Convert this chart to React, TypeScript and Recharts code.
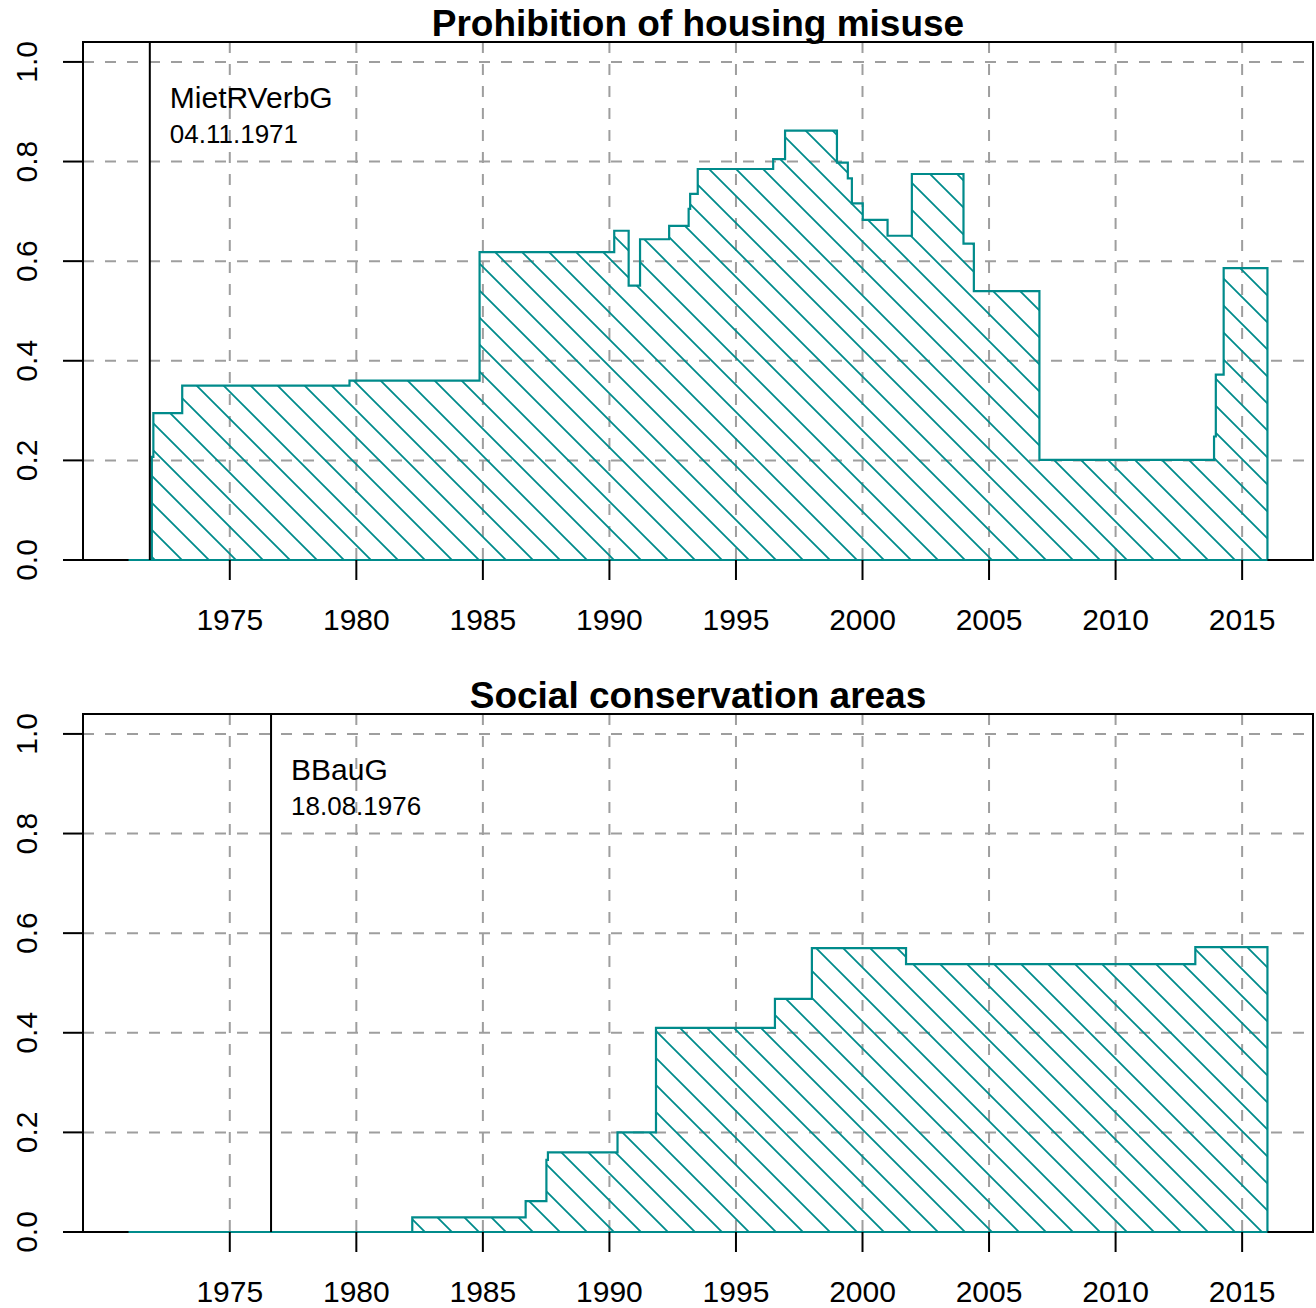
import React from "react";
import {
  ComposedChart,
  Area,
  XAxis,
  YAxis,
  CartesianGrid,
  ReferenceLine,
  ReferenceArea,
} from "recharts";

// tick positions
const yearTicks = [1975, 1980, 1985, 1990, 1995, 2000, 2005, 2010, 2015];
const shareTicks = [0, 0.2, 0.4, 0.6, 0.8, 1.0];

// Prohibition of housing misuse: step changes (year, share)
const misuseYears = [
  1971.0, 1971.92, 1971.98, 1973.12, 1979.73, 1984.87, 1990.19, 1990.76,
  1991.21, 1992.36, 1993.13, 1993.19, 1993.49, 1996.47, 1996.94, 1998.99,
  1999.42, 1999.58, 2000.01, 2000.99, 2001.95, 2003.99, 2004.4, 2006.99,
  2013.89, 2013.96, 2014.27, 2016.0,
];
const misuseShares = [
  0, 0.207, 0.295, 0.35, 0.36, 0.618, 0.661, 0.551, 0.644, 0.671, 0.705, 0.735,
  0.785, 0.805, 0.862, 0.798, 0.766, 0.716, 0.683, 0.651, 0.775, 0.635, 0.54,
  0.201, 0.248, 0.372, 0.586, 0,
];

// Social conservation areas
const conservationYears = [
  1971.0, 1982.21, 1986.69, 1987.51, 1987.57, 1990.32, 1991.84, 1996.54,
  1998.0, 2001.72, 2013.15, 2016.0,
];
const conservationShares = [
  0, 0.0295, 0.062, 0.145, 0.16, 0.2, 0.41, 0.468, 0.57, 0.538, 0.572, 0,
];

const FONT = '"Liberation Sans", Arial, Helvetica, sans-serif';
const TEAL = "#008B8B";
const GRID = "#9e9e9e";
const X_DOMAIN: [number, number] = [1969.2, 2017.8];
const Y_DOMAIN: [number, number] = [0, 1.04];

type PanelProps = {
  id: string;
  title: string;
  years: number[];
  shares: number[];
  lawName: string;
  lawDate: string;
  lawYear: number;
  top: number;
  height: number;
};

const renderXTick = (p: any) => (
  <text
    x={p.x}
    y={p.y + 39.5}
    textAnchor="middle"
    fontFamily={FONT}
    fontSize={30}
    fill="#000"
  >
    {p.payload.value}
  </text>
);

const renderYTick = (p: any) => {
  const bx = p.x - 16;
  return (
    <text
      x={bx}
      y={p.y}
      transform={`rotate(-90, ${bx}, ${p.y})`}
      textAnchor="middle"
      fontFamily={FONT}
      fontSize={30}
      fill="#000"
    >
      {Number(p.payload.value).toFixed(1)}
    </text>
  );
};

function Panel({ id, title, years, shares, lawName, lawDate, lawYear, top, height }: PanelProps) {
  const data = years.map((year, i) => ({ year, share: shares[i] }));
  const first = years[0];
  const last = years[years.length - 1];

  const lawLabel = (props: any) => {
    const vb = props.viewBox || {};
    return (
      <g>
        <text x={vb.x + 20} y={vb.y + 66} fontFamily={FONT} fontSize={30} fill="#000">
          {lawName}
        </text>
        <text x={vb.x + 20} y={vb.y + 101} fontFamily={FONT} fontSize={26} fill="#000">
          {lawDate}
        </text>
      </g>
    );
  };

  return (
    <div style={{ position: "absolute", left: 0, top, width: 1316, height }}>
      <ComposedChart
        width={1316}
        height={height}
        data={data}
        margin={{ top: 42, right: 3, bottom: height - 560 - 60, left: 23 }}
      >
        <defs>
          <pattern
            id={`hatch-${id}`}
            patternUnits="userSpaceOnUse"
            width={27}
            height={27}
          >
            <path
              d="M0,0 L27,27 M-4,23 L4,31 M23,-4 L31,4"
              stroke={TEAL}
              strokeWidth={1.8}
            />
          </pattern>
        </defs>
        <CartesianGrid stroke={GRID} strokeDasharray="11 11" strokeWidth={2} />
        <XAxis
          type="number"
          dataKey="year"
          domain={X_DOMAIN}
          ticks={yearTicks}
          interval={0}
          allowDataOverflow
          height={60}
          tickSize={20}
          tickMargin={10}
          axisLine={false}
          tickLine={{ stroke: "#000", strokeWidth: 2 }}
          tick={renderXTick}
        />
        <YAxis
          type="number"
          domain={Y_DOMAIN}
          ticks={shareTicks}
          interval={0}
          allowDataOverflow
          width={60}
          tickSize={20}
          tickMargin={10}
          axisLine={false}
          tickLine={{ stroke: "#000", strokeWidth: 2 }}
          tick={renderYTick}
        />
        <Area
          type="stepAfter"
          dataKey="share"
          stroke={TEAL}
          strokeWidth={2.2}
          fill={`url(#hatch-${id})`}
          fillOpacity={1}
          baseValue={0}
          dot={false}
          activeDot={false}
          isAnimationActive={false}
        />
        <ReferenceLine
          segment={[
            { x: first, y: 0 },
            { x: last, y: 0 },
          ]}
          stroke={TEAL}
          strokeWidth={2.2}
        />
        <ReferenceArea
          x1={X_DOMAIN[0]}
          x2={X_DOMAIN[1]}
          y1={Y_DOMAIN[0]}
          y2={Y_DOMAIN[1]}
          fill="none"
          fillOpacity={0}
          stroke="#000"
          strokeWidth={2}
          ifOverflow="visible"
        />
        <ReferenceLine
          x={lawYear}
          stroke="#000"
          strokeWidth={2}
          label={lawLabel}
        />
      </ComposedChart>
      <svg
        width={1316}
        height={60}
        style={{ position: "absolute", left: 0, top: 0, pointerEvents: "none" }}
      >
        <text
          x={698}
          y={36}
          textAnchor="middle"
          fontFamily={FONT}
          fontSize={37}
          fontWeight="bold"
          fill="#000"
        >
          {title}
        </text>
      </svg>
    </div>
  );
}

export default function App() {
  return (
    <div
      style={{
        position: "absolute",
        left: 0,
        top: 0,
        width: 1316,
        height: 1308,
        background: "#fff",
      }}
    >
      <Panel
        id="misuse"
        title="Prohibition of housing misuse"
        years={misuseYears}
        shares={misuseShares}
        lawName="MietRVerbG"
        lawDate="04.11.1971"
        lawYear={1971.84}
        top={0}
        height={654}
      />
      <Panel
        id="conservation"
        title="Social conservation areas"
        years={conservationYears}
        shares={conservationShares}
        lawName="BBauG"
        lawDate="18.08.1976"
        lawYear={1976.63}
        top={672}
        height={636}
      />
    </div>
  );
}
